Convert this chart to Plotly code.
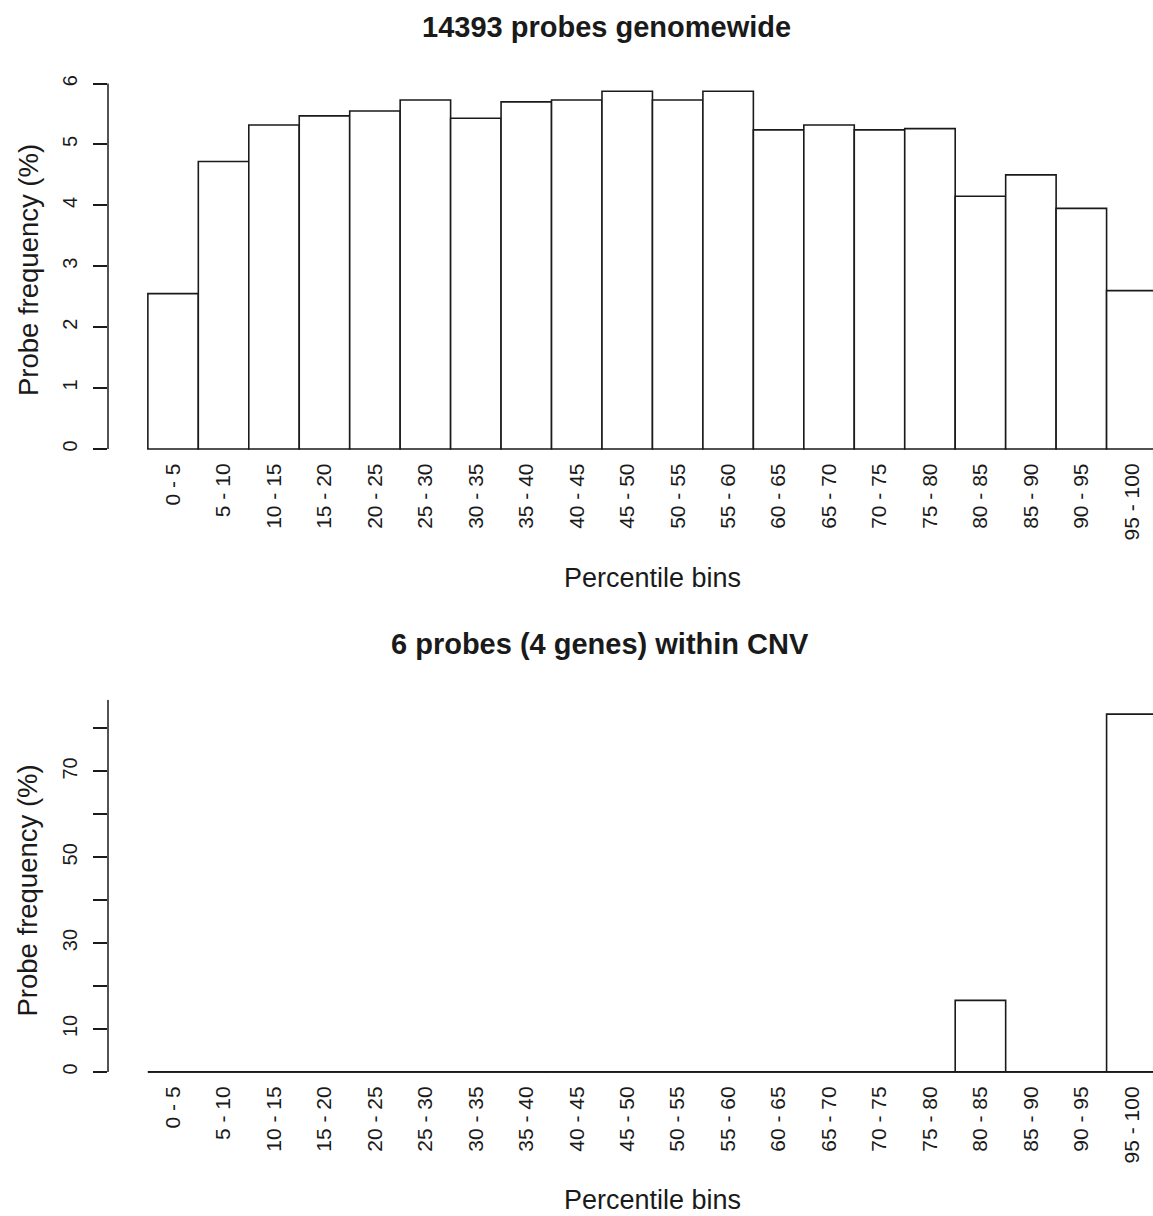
import plotly.graph_objects as go

# ---------------- data ----------------
bins = ["0 - 5", "5 - 10", "10 - 15", "15 - 20", "20 - 25", "25 - 30", "30 - 35",
        "35 - 40", "40 - 45", "45 - 50", "50 - 55", "55 - 60", "60 - 65", "65 - 70",
        "70 - 75", "75 - 80", "80 - 85", "85 - 90", "90 - 95", "95 - 100"]
genome_pct = [2.55, 4.72, 5.32, 5.47, 5.55, 5.73, 5.43, 5.70, 5.73, 5.875,
              5.73, 5.875, 5.24, 5.32, 5.24, 5.26, 4.15, 4.50, 3.95, 2.60]
cnv_pct = [0, 0, 0, 0, 0, 0, 0, 0, 0, 0,
           0, 0, 0, 0, 0, 0, 16.67, 0, 0, 83.33]
top_ticks = [0, 1, 2, 3, 4, 5, 6]
bottom_ticks = [0, 10, 20, 30, 40, 50, 60, 70, 80]
bottom_ticktext = ["0", "10", "", "30", "", "50", "", "70", ""]
title_top = "14393 probes genomewide"
title_bottom = "6 probes (4 genes) within CNV"
xlabel = "Percentile bins"
ylabel = "Probe frequency (%)"

# ---------------- layout helpers ----------------
W, H = 1153, 1216
FONT = "Liberation Sans, Arial, sans-serif"
INK = "#1a1a1a"


def px(x):
    return x / W


def py(y):
    return 1 - y / H


n = len(bins)
xrange_ = [-1.29, n - 0.58]
top_max = max(genome_pct)
bot_max = max(cnv_pct)
top_range = [-0.04 * top_max, top_max * 1.04]
bot_range = [-0.04 * bot_max, bot_max * 1.04]

bar_style = dict(color="white", line=dict(color=INK, width=1.6))

fig = go.Figure()
fig.add_trace(go.Bar(x=bins, y=genome_pct, xaxis="x", yaxis="y", width=1,
                     marker=bar_style, showlegend=False, hoverinfo="x+y"))
fig.add_trace(go.Bar(x=bins, y=cnv_pct, xaxis="x2", yaxis="y2", width=1,
                     marker=bar_style, showlegend=False, hoverinfo="x+y"))

xcommon = dict(type="category", range=xrange_, domain=[px(108), 1],
               tickangle=-90, ticks="", showline=False, showgrid=False,
               zeroline=False, tickfont=dict(family=FONT, size=21, color=INK),
               ticklabelstandoff=-5, fixedrange=True)
ycommon = dict(ticks="outside", ticklen=14, tickwidth=1.5, tickcolor=INK,
               tickangle=-90, showgrid=False, zeroline=False, showline=False,
               tickfont=dict(family=FONT, size=20, color=INK), ticklabelstandoff=8,
               fixedrange=True)


def note(text, x, y, size, angle=0):
    return dict(text=text, x=px(x), y=py(y), xref="paper", yref="paper",
                xanchor="center", yanchor="middle", textangle=angle,
                showarrow=False, font=dict(size=size, family=FONT, color=INK))


fig.update_layout(
    width=W, height=H,
    margin=dict(l=0, r=0, t=0, b=0),
    paper_bgcolor="white", plot_bgcolor="white",
    font=dict(family=FONT, color=INK),
    xaxis=dict(xcommon, anchor="y"),
    yaxis=dict(ycommon, domain=[py(462), py(75)], range=top_range,
               tickvals=top_ticks, anchor="x"),
    xaxis2=dict(xcommon, anchor="y2"),
    yaxis2=dict(ycommon, domain=[py(1086), py(699)], range=bot_range,
                tickvals=bottom_ticks, ticktext=bottom_ticktext, anchor="x2"),
    shapes=[
        dict(type="line", xref="x domain", yref="y", x0=0, x1=0, y0=0, y1=top_ticks[-1],
             line=dict(color=INK, width=1.5)),
        dict(type="line", xref="x2 domain", yref="y2", x0=0, x1=0, y0=0, y1=bot_range[1],
             line=dict(color=INK, width=1.5)),
        dict(type="line", xref="x2", yref="y2", x0=-0.5, x1=n - 0.5, y0=0, y1=0,
             line=dict(color=INK, width=1.6)),
    ],
    annotations=[
        note("<b>" + title_top + "</b>", 606, 25, 29),
        note("<b>" + title_bottom + "</b>", 600, 643, 29),
        note(xlabel, 652, 577, 27),
        note(xlabel, 652, 1200, 27),
        note(ylabel, 28, 268.5, 27.5, -90),
        note(ylabel, 28, 890, 27.5, -90),
    ],
)

fig.write_html("out.html")
